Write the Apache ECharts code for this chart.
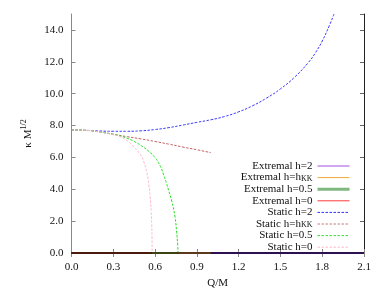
<!DOCTYPE html>
<html>
<head>
<meta charset="utf-8">
<script src="https://cdn.jsdelivr.net/npm/echarts@6/dist/echarts.min.js"></script>
<style>html,body{margin:0;padding:0;background:#fff;}#c{width:382px;height:294px;}</style>
</head>
<body>
<div id="c"></div>
<script>
// ---- data ----
const xTicks = ['0.0','0.3','0.6','0.9','1.2','1.5','1.8','2.1'];
const yTicks = ['0.0','2.0','4.0','6.0','8.0','10.0','12.0','14.0'];
const seriesNames = ['Extremal h=2','Extremal h=hKK','Extremal h=0.5','Extremal h=0',
                     'Static h=2','Static h=hKK','Static h=0.5','Static h=0'];

// Extremal curves: kappa = 0 over their Q range
const qExtremal2   = [0, 2.1];
const kExtremal2   = [0, 0];
const qExtremalKK  = [0, 1.0];
const kExtremalKK  = [0, 0];
const qExtremal05  = [0, 0.765];
const kExtremal05  = [0, 0];
const qExtremal0   = [0, 0.578];
const kExtremal0   = [0, 0];

// Static curves
const qStatic2  = [0, 0.1, 0.2, 0.3, 0.4, 0.5, 0.6, 0.7, 0.8, 0.9, 1.0, 1.1, 1.2, 1.3, 1.4, 1.5, 1.6, 1.7, 1.75, 1.8, 1.85, 1.885];
const kStatic2  = [7.72, 7.7, 7.66, 7.64, 7.64, 7.67, 7.75, 7.87, 8.03, 8.2, 8.36, 8.57, 8.86, 9.24, 9.72, 10.3, 11.02, 11.95, 12.55, 13.3, 14.25, 15.0];
const qStaticKK = [0, 0.1, 0.2, 0.3, 0.4, 0.5, 0.6, 0.7, 0.8, 0.9, 1.0];
const kStaticKK = [7.72, 7.7, 7.6, 7.45, 7.3, 7.16, 7.0, 6.83, 6.65, 6.48, 6.3];
const qStatic05 = [0, 0.1, 0.2, 0.3, 0.35, 0.4, 0.45, 0.5, 0.55, 0.6, 0.635, 0.66, 0.683, 0.7, 0.72, 0.743, 0.755, 0.762, 0.765];
const kStatic05 = [7.72, 7.7, 7.6, 7.45, 7.35, 7.2, 7.0, 6.74, 6.42, 5.98, 5.5, 4.95, 4.35, 3.85, 3.25, 2.27, 1.3, 0.55, 0];
const qStatic0  = [0, 0.1, 0.2, 0.25, 0.3, 0.35, 0.4, 0.44, 0.47, 0.5, 0.52, 0.54, 0.555, 0.565, 0.572, 0.576, 0.578, 0.5785];
const kStatic0  = [7.72, 7.7, 7.6, 7.52, 7.42, 7.3, 7.05, 6.72, 6.45, 6.1, 5.7, 5.1, 4.3, 3.5, 2.6, 1.8, 1.0, 0];

function pairs(q, k) { return q.map((v, i) => [v, k[i]]); }

const serif = 'Liberation Serif';
const chart = echarts.init(document.getElementById('c'));

const legendColors = [
  {color:'#a04ee0', width:1, type:'solid'},
  {color:'#f0a838', width:1, type:'solid'},
  {color:'#7fb87f', width:3, type:'solid'},
  {color:'#ff3a3a', width:1, type:'solid'},
  {color:'#2a2aff', width:1, type:[2.5,1.5]},
  {color:'#d07a7a', width:1, type:[2.5,1.5]},
  {color:'#30e030', width:1, type:[2.5,1.5]},
  {color:'#ffb8c8', width:1, type:[2.5,1.5]}
];

function lineSeries(name, data, color, width, type, dashed) {
  return {
    name: name, type: 'line', data: data, symbol: 'none', showSymbol: false,
    smooth: dashed ? 0.5 : false,
    lineStyle: {color: color, width: width, type: type},
    itemStyle: {color: color},
    clip: true, animation: false, z: dashed ? 3 : 4
  };
}

const option = {
  animation: false,
  backgroundColor: '#ffffff',
  grid: {left: 71.5, right: 18, top: 14, bottom: 37.3, containLabel: false},
  legend: {
    orient: 'vertical', align: 'right', right: 31, top: 160.5, padding: 0,
    itemWidth: 32, itemHeight: 8, itemGap: 0.6,
    data: seriesNames.map((n, i) => ({name: n, lineStyle: legendColors[i], itemStyle: {color: legendColors[i].color, opacity: 0}})),
    formatter: n => n.replace('hKK', 'h{sub|KK}'),
    textStyle: {
      fontFamily: serif, fontSize: 11, color: '#111', lineHeight: 10,
      rich: {sub: {fontFamily: serif, fontSize: 8, lineHeight: 4, verticalAlign: 'bottom', color: '#111'}}
    },
    selectedMode: false
  },
  xAxis: [{
    type: 'value', min: 0, max: 2.1, interval: 0.3, position: 'bottom',
    name: 'Q/M', nameLocation: 'middle', nameGap: 25,
    nameTextStyle: {fontFamily: serif, fontSize: 11, color: '#111'},
    axisLine: {show: true, onZero: false, lineStyle: {color: '#555', width: 1}},
    axisTick: {show: true, inside: true, length: 4, lineStyle: {color: '#888'}},
    axisLabel: {fontFamily: serif, fontSize: 11, color: '#111', margin: 9,
      formatter: v => xTicks[Math.round(v / 0.3)] || ''},
    splitLine: {show: false}
  }, {
    type: 'value', min: 0, max: 2.1, interval: 0.3, position: 'top',
    axisLine: {show: true, lineStyle: {color: '#888', width: 1}},
    axisTick: {show: true, inside: true, length: 4, lineStyle: {color: '#888'}},
    axisLabel: {show: false}, splitLine: {show: false}
  }],
  yAxis: [{
    type: 'value', min: 0, max: 15, interval: 2, position: 'left',
    name: '{n|κ M}{sup|1/2}', nameLocation: 'middle', nameGap: 35, nameRotate: 90,
    nameTextStyle: {fontFamily: serif, fontSize: 11, color: '#111',
      rich: {n: {fontFamily: serif, fontSize: 11, color: '#111'},
             sup: {fontFamily: serif, fontSize: 8, color: '#111', padding: [0, 0, 7, 0]}}},
    axisLine: {show: true, onZero: false, lineStyle: {color: '#888', width: 1}},
    axisTick: {show: true, inside: true, length: 4, lineStyle: {color: '#888'}},
    axisLabel: {fontFamily: serif, fontSize: 11, color: '#111', margin: 8, showMaxLabel: false,
      formatter: v => (v % 2 === 0 && yTicks[v / 2] !== undefined) ? yTicks[v / 2] : ''},
    splitLine: {show: false}
  }, {
    type: 'value', min: 0, max: 15, interval: 2, position: 'right',
    axisLine: {show: true, onZero: false, lineStyle: {color: '#222', width: 1}},
    axisTick: {show: true, inside: true, length: 4, lineStyle: {color: '#666'}},
    axisLabel: {show: false}, splitLine: {show: false}
  }],
  series: [
    lineSeries(seriesNames[0], pairs(qExtremal2, kExtremal2), '#2c1050', 2, 'solid', false),
    lineSeries(seriesNames[1], pairs(qExtremalKK, kExtremalKK), '#5a3a1a', 2, 'solid', false),
    lineSeries(seriesNames[2], pairs(qExtremal05, kExtremal05), '#3c4212', 2, 'solid', false),
    lineSeries(seriesNames[3], pairs(qExtremal0, kExtremal0), '#4b1c0c', 2, 'solid', false),
    lineSeries(seriesNames[4], pairs(qStatic2, kStatic2), '#3a3aff', 1, [2.5,1.5], true),
    lineSeries(seriesNames[5], pairs(qStaticKK, kStaticKK), '#c06262', 1, [2.5,1.5], true),
    lineSeries(seriesNames[6], pairs(qStatic05, kStatic05), '#22dd22', 1, [2.5,1.5], true),
    lineSeries(seriesNames[7], pairs(qStatic0, kStatic0), '#ffb8c8', 1, [2.5,1.5], true)
  ]
};
chart.setOption(option);
</script>
</body>
</html>
